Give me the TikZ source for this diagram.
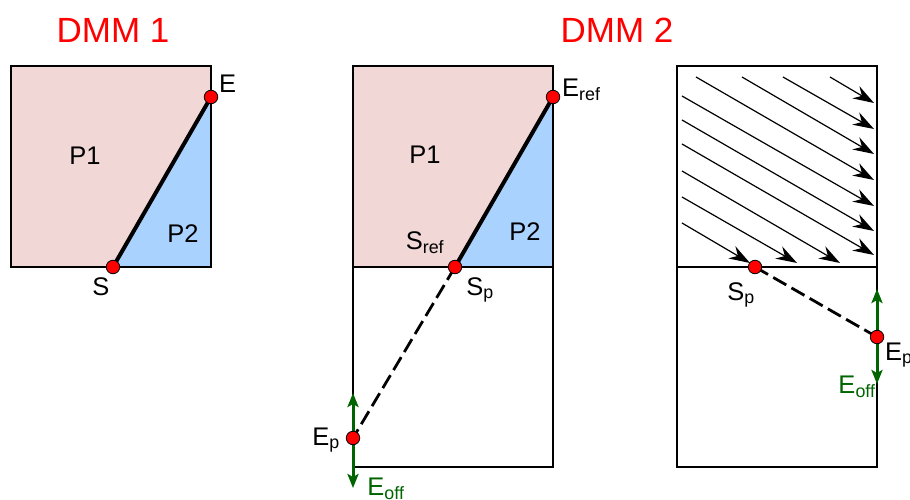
\documentclass[tikz,border=0pt]{standalone}
\usepackage{fontspec}
\setmainfont{Liberation Sans}
\usetikzlibrary{arrows.meta}
\definecolor{pinkfill}{RGB}{242,215,215}
\definecolor{bluefill}{RGB}{170,210,255}
\definecolor{dgreen}{RGB}{0,100,0}
\begin{document}
\begin{tikzpicture}[x=1pt,y=-1pt,
  box/.style={draw=black,line width=2.2pt},
  dot/.style={circle,draw=black,fill=red,inner sep=0pt,minimum size=13.5pt,line width=0.8pt},
  lbl/.style={font=\fontsize{25.5}{25.5}\selectfont,inner sep=0pt},
  title/.style={font=\fontsize{35}{35}\selectfont,text=red,inner sep=0pt},
  diag/.style={line width=4pt},
  dline/.style={line width=2.8pt,dash pattern=on 15pt off 6pt},
  garrow/.style={draw=dgreen,line width=3pt,-{Stealth[length=14pt,width=11pt,inset=3pt]}},
  flow/.style={line width=1.2pt,-{Stealth[length=21pt,width=14pt,inset=7pt]}}]
\useasboundingbox (0,0) rectangle (910,500);
% titles
\node[title] (t1) at (113,30) {DMM 1};
\node[title] (t2) at (617,30) {DMM 2};
% ---------- DMM 1 ----------
\coordinate (a1) at (11,66);
\coordinate (b1) at (211,66);
\coordinate (c1) at (211,267);
\coordinate (d1) at (11,267);
\coordinate (E1) at (211,97);
\coordinate (S1) at (113,267);
\fill[pinkfill] (a1) -- (b1) -- (E1) -- (S1) -- (d1) -- cycle;
\fill[bluefill] (E1) -- (c1) -- (S1) -- cycle;
\draw[box] (a1) rectangle (c1);
\draw[diag] (S1) -- (E1);
\node[dot] (nE1) at (E1) {};
\node[dot] (nS1) at (S1) {};
\node[lbl] (P11) at (85,156) {P1};
\node[lbl] (P21) at (183,234) {P2};
\node[lbl,anchor=west] (lE1) at (219,84) {E};
\node[lbl] (lS1) at (101,287) {S};
% ---------- DMM 2 middle ----------
\coordinate (a2) at (353,66);
\coordinate (b2) at (553,66);
\coordinate (c2) at (553,267);
\coordinate (d2) at (353,267);
\coordinate (Eref) at (553,97);
\coordinate (Sp2) at (455,267);
\coordinate (Ep2) at (353,438);
\fill[pinkfill] (a2) -- (b2) -- (Eref) -- (Sp2) -- (d2) -- cycle;
\fill[bluefill] (Eref) -- (c2) -- (Sp2) -- cycle;
\draw[box] (a2) rectangle (c2);
\draw[box] (d2) rectangle (553,467);
\draw[dline] (Sp2) -- (Ep2);
\draw[diag] (Sp2) -- (Eref);
\draw[garrow] (Ep2) -- (353,393);
\draw[garrow] (Ep2) -- (353,488);
\node[dot] (nEref) at (Eref) {};
\node[dot] (nSp2) at (Sp2) {};
\node[dot] (nEp2) at (Ep2) {};
\node[lbl] (P12) at (425,155) {P1};
\node[lbl] (P22) at (525,232) {P2};
\node[lbl,anchor=west] (lEref) at (562,90) {E\textsubscript{ref}};
\node[lbl] (lSref) at (425,243) {S\textsubscript{ref}};
\node[lbl] (lSp2) at (480,290) {S\textsubscript{p}};
\node[lbl] (lEp2) at (326,440) {E\textsubscript{p}};
\node[lbl,text=dgreen] (lEoff2) at (386,489) {E\textsubscript{off}};
% ---------- DMM 2 right ----------
\coordinate (a3) at (677,66);
\coordinate (c3) at (877,267);
\coordinate (d3) at (677,267);
\draw[box] (a3) rectangle (c3);
\draw[box] (d3) rectangle (877,467);
\foreach \sx/\sy/\ex/\ey in {830/77/874/103, 783/77/874/129, 742/77/874/154, 696/77/874/180,
  682/96/874/206, 682/120/874/231, 682/144/874/255, 682/171/840/263, 682/197/797/263, 682/223/750/263}
  \draw[flow] (\sx,\sy) -- (\ex,\ey);
\coordinate (Sp3) at (755,267);
\coordinate (Ep3) at (877,337);
\draw[dline] (Sp3) -- (Ep3);
\draw[garrow] (Ep3) -- (877,289);
\draw[garrow] (Ep3) -- (877,384);
\node[dot] (nSp3) at (Sp3) {};
\node[dot] (nEp3) at (Ep3) {};
\node[lbl] (lSp3) at (741,295) {S\textsubscript{p}};
\node[lbl,anchor=west] (lEp3) at (885,355) {E\textsubscript{p}};
\node[lbl,text=dgreen] (lEoff3) at (857,387) {E\textsubscript{off}};
\end{tikzpicture}
\end{document}
